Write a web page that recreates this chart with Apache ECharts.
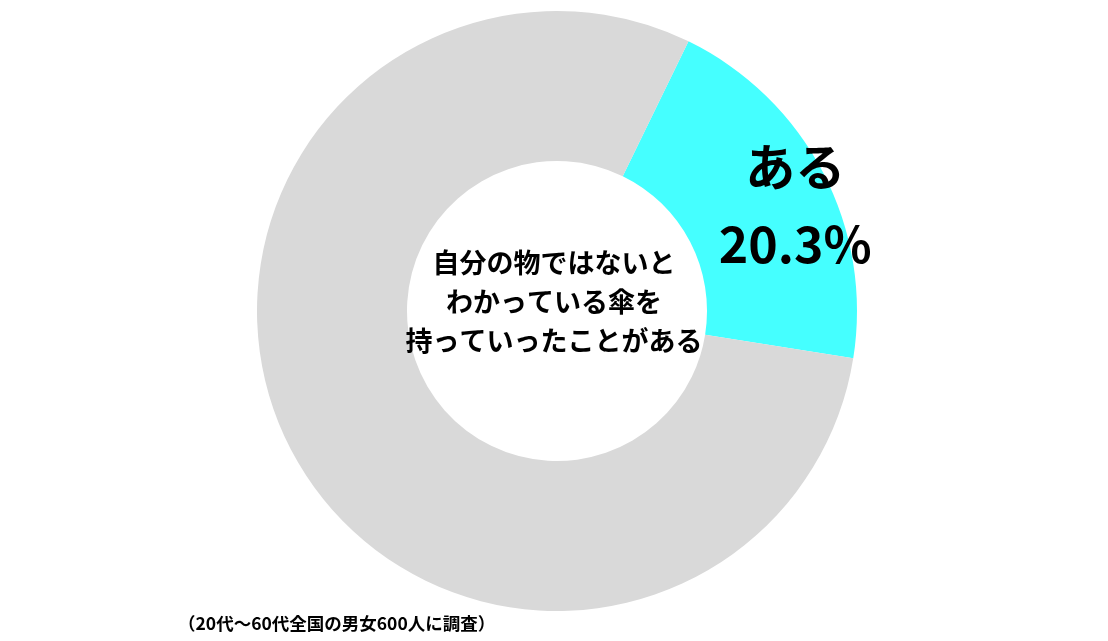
<!DOCTYPE html>
<html>
<head>
<meta charset="utf-8">
<script src="https://cdn.jsdelivr.net/npm/echarts@6/dist/echarts.min.js"></script>
<style>
html,body{margin:0;padding:0;background:#fff;}
#c{width:1108px;height:641px;}
</style>
</head>
<body>
<div id="c"></div>
<script>
const categories = ['ある', 'ない'];
const values = [20.3, 79.7];
const colors = ['#45FFFF', '#D9D9D9'];
const centerText = '自分の物ではないと\nわかっている傘を\n持っていったことがある';
const noteText = '（20代～60代全国の男女600人に調査）';

const chart = echarts.init(document.getElementById('c'), null, {renderer: 'canvas'});
const FONT = '"Noto Sans CJK JP", "Noto Sans", sans-serif';
chart.setOption({
  animation: false,
  backgroundColor: '#ffffff',
  series: [{
    type: 'pie',
    center: [557, 311],
    radius: [150, 300],
    startAngle: 64,
    clockwise: true,
    silent: true,
    labelLine: {show: false},
    data: categories.map((c, i) => ({
      name: c,
      value: values[i],
      itemStyle: {color: colors[i], borderWidth: 0},
      label: i === 0 ? {
        show: true,
        position: 'inside',
        formatter: '{b}\n{c}%',
        color: '#000',
        fontFamily: FONT,
        fontWeight: 'bold',
        fontSize: 50,
        lineHeight: 77
      } : {show: false}
    })),
    labelLayout: function (p) {
      if (p.dataIndex === 0) return {dx: 36, dy: 0};
    }
  }],
  graphic: [{
    type: 'text',
    z: 100,
    left: 'center',
    top: 243,
    style: {
      text: centerText,
      fill: '#000',
      font: 'bold 27px ' + FONT,
      textAlign: 'center',
      lineHeight: 39
    }
  }, {
    type: 'text',
    z: 100,
    left: 178,
    top: 615,
    style: {
      text: noteText,
      fill: '#000',
      font: 'bold 17.5px ' + FONT
    }
  }]
});
</script>
</body>
</html>
